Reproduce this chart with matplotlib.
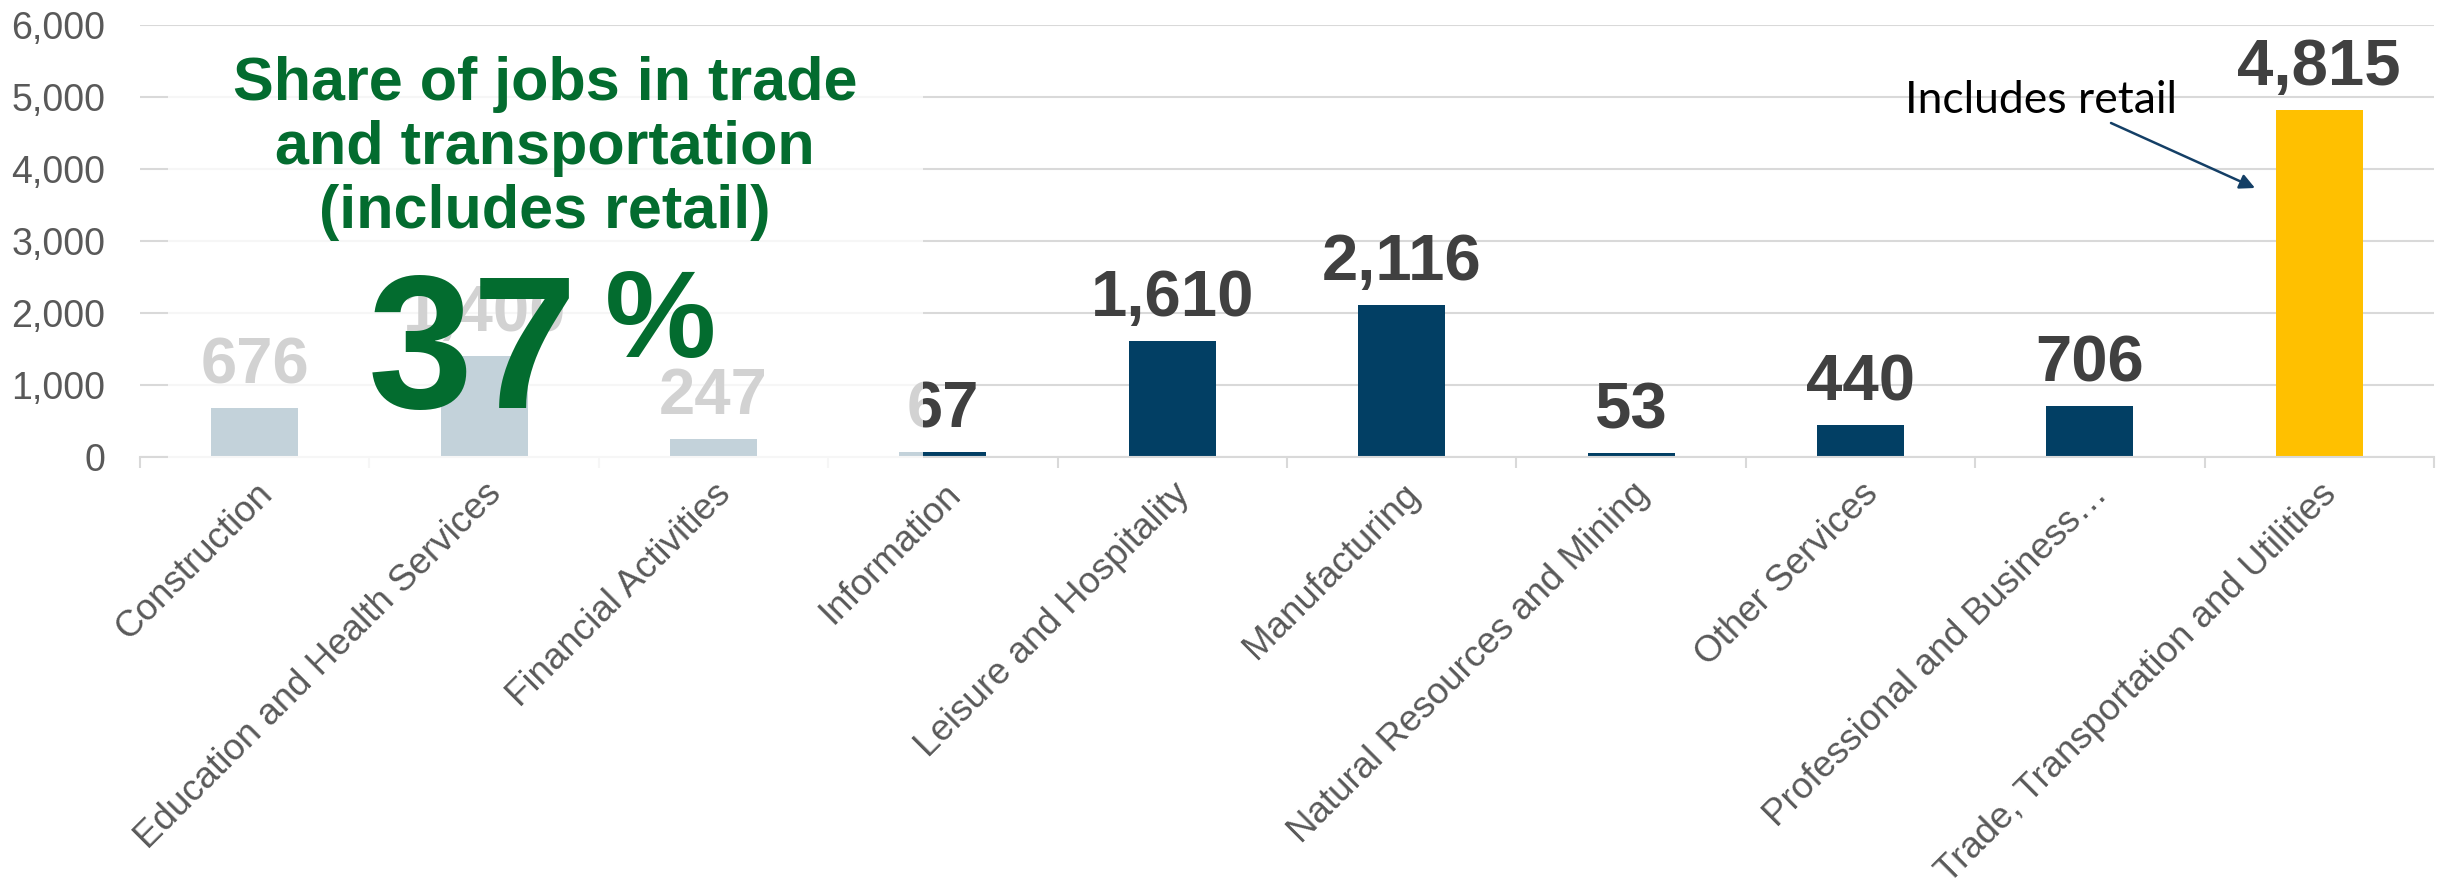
import matplotlib.pyplot as plt
import numpy as np
from matplotlib.patches import Rectangle
from matplotlib.ticker import FuncFormatter

plt.rcParams["font.family"] = ["Liberation Sans", "DejaVu Sans"]

# jobs by industry (thousands)
industries = [
    "Construction",
    "Education and Health Services",
    "Financial Activities",
    "Information",
    "Leisure and Hospitality",
    "Manufacturing",
    "Natural Resources and Mining",
    "Other Services",
    "Professional and Business\u2026",
    "Trade, Transportation and Utilities",
]
jobs = [676, 1400, 247, 67, 1610, 2116, 53, 440, 706, 4815]
highlight = "Trade, Transportation and Utilities"
y_ticks = [0, 1000, 2000, 3000, 4000, 5000, 6000]

share_title = "Share of jobs in trade\nand transportation\n(includes retail)"
share_number = "37"
share_sign = "%"
callout = "Includes retail"

NAVY = "#023f64"
GOLD = "#ffc000"
GREEN = "#036c2f"
GRID = "#d9d9d9"
LABEL = "#404040"
TICK = "#595959"

W, H = 2443, 896
fig = plt.figure(figsize=(W / 100, H / 100), dpi=100)
ax = fig.add_axes([140 / W, 1 - 457 / H, 2294 / W, 432 / H])

x = np.arange(len(industries))
colors = [GOLD if name == highlight else NAVY for name in industries]
bars = ax.bar(x, jobs, width=0.38, color=colors, zorder=2)

for xi, v in zip(x, jobs):
    ax.annotate(f"{v:,}", xy=(xi, v), xytext=(0, 18), textcoords="offset points",
                ha="center", va="baseline", fontsize=47, fontweight="bold",
                color=LABEL, zorder=3)

ax.set_xlim(-0.5, len(industries) - 0.5)
ax.set_ylim(0, 6000)
ax.set_yticks(y_ticks)
ax.yaxis.set_major_formatter(FuncFormatter(lambda v, _: f"{v:,.0f}"))
ax.tick_params(axis="y", length=0, pad=25, labelsize=27, labelcolor=TICK)
ax.grid(axis="y", color=GRID, linewidth=1.5, zorder=0)
ax.set_axisbelow(True)

ax.set_xticks(x)
ax.set_xticklabels(industries, rotation=45, ha="right", va="top",
                   rotation_mode="anchor", fontsize=26.5, color=TICK)
ax.set_xticks(np.arange(len(industries) + 1) - 0.5, minor=True)
ax.tick_params(axis="x", which="major", length=0, pad=14)
ax.tick_params(axis="x", which="minor", length=8, width=1.5, color=GRID)

for side in ["left", "right", "top"]:
    ax.spines[side].set_visible(False)
ax.spines["bottom"].set_color(GRID)
ax.spines["bottom"].set_linewidth(1.5)

# translucent panel behind the share callout
panel = Rectangle((0.0122, -0.042), 0.3291, 1.007, transform=ax.transAxes,
                  facecolor="white", alpha=0.77, edgecolor="none",
                  zorder=5, clip_on=False)
ax.add_patch(panel)

for i, line in enumerate(share_title.split("\n")):
    fig.text(545 / W, 1 - (100 + 64 * i) / H, line, ha="center", va="baseline",
             fontsize=44, fontweight="bold", color=GREEN, zorder=6)
fig.text(473 / W, 1 - 408 / H, share_number, ha="center", va="baseline",
         fontsize=136, fontweight="bold", color=GREEN, zorder=6)
fig.text(660 / W, 1 - 357 / H, share_sign, ha="center", va="baseline",
         fontsize=90, fontweight="bold", color=GREEN, zorder=6)

# callout arrow pointing at the trade bar
fig.text(1905 / W, 1 - 113 / H, callout, ha="left", va="baseline",
         fontsize=32, family=["Lato", "DejaVu Sans"], color="black")
ax.annotate("", xy=(2255, H - 188), xycoords="figure pixels",
            xytext=(2111, H - 123), textcoords="figure pixels",
            arrowprops=dict(arrowstyle="-|>,head_length=0.9,head_width=0.45",
                            color="#143f66", linewidth=1.8, shrinkA=0, shrinkB=0))

fig.savefig("out.png", dpi=100)
plt.close(fig)
